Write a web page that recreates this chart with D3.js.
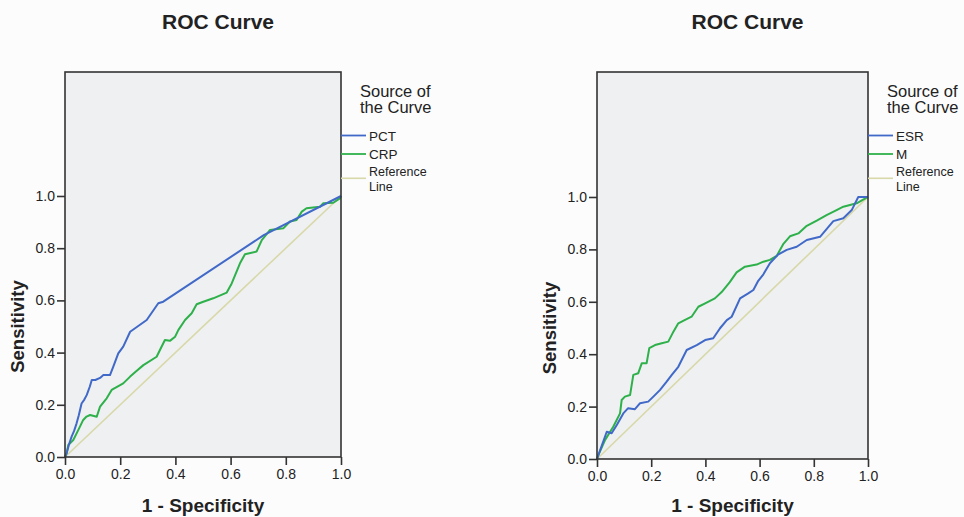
<!DOCTYPE html>
<html>
<head>
<meta charset="utf-8">
<script src="https://cdn.jsdelivr.net/npm/d3@7"></script>
<style>
  body { margin: 0; background: #fcfcfd; }
  text { font-family: "Liberation Sans", Arial, sans-serif; fill: #222; }
</style>
</head>
<body>
<div id="chart"></div>
<script>
// ROC curves: [1 - specificity, sensitivity]
var pct = [[0,0],[0.006,0.015],[0.015,0.05],[0.024,0.078],[0.033,0.1],[0.042,0.129],[0.05,0.16],[0.06,0.205],
  [0.07,0.22],[0.079,0.238],[0.09,0.27],[0.097,0.295],[0.11,0.295],[0.127,0.303],[0.139,0.314],[0.163,0.314],
  [0.175,0.346],[0.193,0.397],[0.211,0.423],[0.236,0.48],[0.296,0.525],[0.338,0.589],[0.356,0.595],
  [0.72,0.85],[1,1]];
var crp = [[0,0],[0.006,0.014],[0.012,0.046],[0.03,0.065],[0.048,0.103],[0.066,0.142],[0.078,0.155],[0.091,0.161],
  [0.115,0.154],[0.127,0.193],[0.151,0.225],[0.169,0.257],[0.19,0.27],[0.211,0.282],[0.236,0.308],[0.26,0.33],
  [0.284,0.352],[0.332,0.384],[0.344,0.41],[0.362,0.448],[0.38,0.445],[0.399,0.461],[0.411,0.487],[0.435,0.525],
  [0.459,0.551],[0.477,0.585],[0.501,0.595],[0.537,0.608],[0.586,0.63],[0.604,0.665],[0.634,0.742],[0.652,0.777],
  [0.694,0.787],[0.713,0.831],[0.743,0.87],[0.791,0.876],[0.815,0.902],[0.839,0.908],[0.858,0.94],[0.875,0.953],
  [0.924,0.959],[0.936,0.972],[0.972,0.974],[0.996,0.991],[1,1]];
var esr = [[0,0],[0.005,0.015],[0.036,0.104],[0.054,0.098],[0.073,0.13],[0.097,0.174],[0.115,0.194],[0.14,0.19],
  [0.159,0.213],[0.189,0.219],[0.208,0.238],[0.232,0.263],[0.257,0.295],[0.276,0.321],[0.3,0.352],[0.331,0.416],
  [0.368,0.435],[0.399,0.454],[0.429,0.461],[0.454,0.499],[0.479,0.53],[0.497,0.543],[0.528,0.613],[0.558,0.632],
  [0.577,0.645],[0.595,0.68],[0.614,0.705],[0.638,0.747],[0.668,0.78],[0.7,0.798],[0.737,0.81],[0.774,0.836],
  [0.823,0.848],[0.872,0.908],[0.909,0.919],[0.94,0.95],[0.964,1.0],[1,1]];
var mCurve = [[0,0],[0.005,0.015],[0.03,0.073],[0.06,0.123],[0.085,0.174],[0.091,0.225],[0.103,0.238],[0.122,0.244],
  [0.134,0.321],[0.152,0.327],[0.165,0.365],[0.183,0.365],[0.193,0.423],[0.214,0.435],[0.239,0.442],[0.263,0.448],
  [0.282,0.486],[0.3,0.518],[0.325,0.531],[0.349,0.543],[0.374,0.581],[0.399,0.594],[0.435,0.613],[0.46,0.637],
  [0.49,0.675],[0.515,0.712],[0.546,0.734],[0.589,0.742],[0.614,0.753],[0.638,0.76],[0.663,0.775],[0.687,0.82],
  [0.712,0.85],[0.743,0.861],[0.774,0.89],[0.811,0.91],[0.847,0.931],[0.884,0.95],[0.909,0.963],[0.958,0.976],[1,1]];
var refLine = [[0,0],[1,1]];

var tickVals = [0, 0.2, 0.4, 0.6, 0.8, 1.0];
var legendLabels = [["PCT", "CRP"], ["ESR", "M"]];

var blue = "#4169c8", green = "#2eb04a", beige = "#d8d8a8";

var svg = d3.select("#chart").append("svg")
  .attr("width", 964)
  .attr("height", 517);

// one panel per chart, pixel box of the plotting frame
var panels = [
  {left: 65, right: 341, top: 72, bottom: 457, yMax: 1.475, curves: [pct, crp], labels: legendLabels[0]},
  {left: 597, right: 868, top: 72, bottom: 459, yMax: 1.477, curves: [esr, mCurve], labels: legendLabels[1]}
];

panels.forEach(function(p) {
  var x = d3.scaleLinear().domain([0, 1]).range([p.left, p.right]);
  var y = d3.scaleLinear().domain([0, p.yMax]).range([p.bottom, p.top]);
  var g = svg.append("g");

  g.append("rect")
    .attr("x", p.left).attr("y", p.top)
    .attr("width", p.right - p.left).attr("height", p.bottom - p.top)
    .attr("fill", "#eef0f2");

  var line = d3.line()
    .x(function(d) { return x(d[0]); })
    .y(function(d) { return y(d[1]); });

  g.append("path").datum(refLine)
    .attr("d", line).attr("fill", "none")
    .attr("stroke", beige).attr("stroke-width", 1.6);

  // green under blue, like the picture
  g.append("path").datum(p.curves[1])
    .attr("d", line).attr("fill", "none")
    .attr("stroke", green).attr("stroke-width", 2).attr("stroke-linejoin", "round");
  g.append("path").datum(p.curves[0])
    .attr("d", line).attr("fill", "none")
    .attr("stroke", blue).attr("stroke-width", 2).attr("stroke-linejoin", "round");

  // frame
  g.append("rect")
    .attr("x", p.left).attr("y", p.top)
    .attr("width", p.right - p.left).attr("height", p.bottom - p.top)
    .attr("fill", "none").attr("stroke", "#333").attr("stroke-width", 1.6);

  var xAxis = g.append("g")
    .attr("transform", "translate(0," + p.bottom + ")")
    .call(d3.axisBottom(x).tickValues(tickVals).tickSize(8).tickPadding(4).tickFormat(d3.format(".1f")));
  var yAxis = g.append("g")
    .attr("transform", "translate(" + p.left + ",0)")
    .call(d3.axisLeft(y).tickValues(tickVals).tickSize(8).tickPadding(2).tickFormat(d3.format(".1f")));
  [xAxis, yAxis].forEach(function(a) {
    a.select(".domain").remove();
    a.selectAll("line").attr("stroke", "#333").attr("stroke-width", 1.6);
    a.selectAll("text").style("font-size", "14px").attr("fill", "#333");
  });

  var cx = (p.left + p.right) / 2;
  g.append("text")
    .attr("x", cx + 15).attr("y", 29)
    .attr("text-anchor", "middle")
    .style("font-size", "21px").style("font-weight", "bold")
    .text("ROC Curve");

  g.append("text")
    .attr("x", cx).attr("y", 512)
    .attr("text-anchor", "middle")
    .style("font-size", "19px").style("font-weight", "bold")
    .text("1 - Specificity");

  g.append("text")
    .attr("transform", "translate(" + (p.left - 41) + "," + y(0.5) + ") rotate(-90)")
    .attr("text-anchor", "middle")
    .style("font-size", "18.5px").style("font-weight", "bold")
    .text("Sensitivity");

  // legend
  var lg = g.append("g");
  lg.append("text").attr("x", p.right + 19).attr("y", 96.5)
    .style("font-size", "16.5px").text("Source of");
  lg.append("text").attr("x", p.right + 19).attr("y", 112.7)
    .style("font-size", "16.5px").text("the Curve");

  var entries = [
    {label: p.labels[0], color: blue, y: 135.5},
    {label: p.labels[1], color: green, y: 154}
  ];
  entries.forEach(function(e) {
    lg.append("line")
      .attr("x1", p.right).attr("x2", p.right + 25)
      .attr("y1", e.y).attr("y2", e.y)
      .attr("stroke", e.color).attr("stroke-width", 1.8);
    lg.append("text").attr("x", p.right + 28).attr("y", e.y + 5)
      .style("font-size", "13.5px").text(e.label);
  });
  lg.append("line")
    .attr("x1", p.right).attr("x2", p.right + 25)
    .attr("y1", 178.3).attr("y2", 178.3)
    .attr("stroke", beige).attr("stroke-width", 1.6);
  lg.append("text").attr("x", p.right + 28).attr("y", 176)
    .style("font-size", "12.5px").text("Reference");
  lg.append("text").attr("x", p.right + 28).attr("y", 191)
    .style("font-size", "12.5px").text("Line");
});
</script>
</body>
</html>
